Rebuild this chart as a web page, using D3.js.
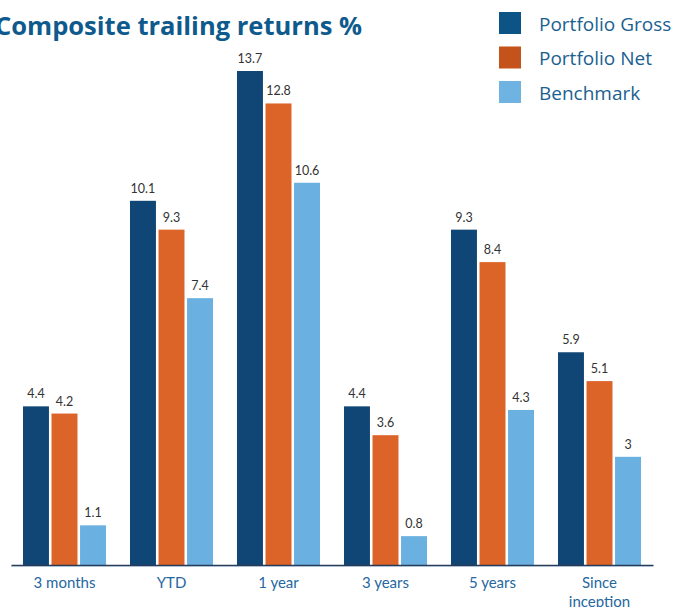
<!DOCTYPE html>
<html>
<head>
<meta charset="utf-8">
<script src="https://cdn.jsdelivr.net/npm/d3@7"></script>
<style>
  html, body { margin: 0; padding: 0; background: #fff; overflow: hidden; }
  svg { display: block; }
</style>
</head>
<body>
<div id="chart"></div>
<script>
const categories = ['3 months', 'YTD', '1 year', '3 years', '5 years', 'Since inception'];
const seriesNames = ['Portfolio Gross', 'Portfolio Net', 'Benchmark'];
const portfolioGross = [4.4, 10.1, 13.7, 4.4, 9.3, 5.9];
const portfolioNet = [4.2, 9.3, 12.8, 3.6, 8.4, 5.1];
const benchmark = [1.1, 7.4, 10.6, 0.8, 4.3, 3];

const barColors = ['#104675', '#dd6428', '#6ab0e0'];
const swatchColors = ['#0c5386', '#c4521b', '#6fb3e3'];

const width = 677;
const height = 607;
const base = 565;

const data = categories.map((c, i) => ({
  cat: c,
  values: [portfolioGross[i], portfolioNet[i], benchmark[i]].map((v, k) => ({ key: seriesNames[k], value: v, k })),
}));

const svg = d3
  .select('#chart')
  .append('svg')
  .attr('width', width)
  .attr('height', height);

const x0 = d3.scaleBand().domain(categories).range([11, 653]).paddingInner(0.224).paddingOuter(0.112);
const x1 = d3.scaleBand().domain(seriesNames).range([0, x0.bandwidth()]).paddingInner(0.09);
const y = d3.scaleLinear().domain([0, 13.7]).range([base, 71]);

// title, right edge at 362, left side runs off the page like the original
const title = svg
  .append('text')
  .attr('x', 362)
  .attr('y', 35)
  .attr('text-anchor', 'end')
  .style('font-family', '"Open Sans", sans-serif')
  .style('font-weight', 700)
  .style('font-size', '25px')
  .style('fill', '#0f5a8c')
  .text('Composite trailing returns %');
const tw = title.node().getComputedTextLength();
if (Math.abs(tw - 367) > 4) title.attr('textLength', 367).attr('lengthAdjust', 'spacingAndGlyphs');

// bars
const groups = svg
  .selectAll('g.group')
  .data(data)
  .enter()
  .append('g')
  .attr('class', 'group')
  .attr('transform', (d) => `translate(${x0(d.cat)},0)`);

groups
  .selectAll('rect')
  .data((d) => d.values)
  .enter()
  .append('rect')
  .attr('x', (d) => x1(d.key))
  .attr('y', (d) => y(d.value))
  .attr('width', x1.bandwidth())
  .attr('height', (d) => base - y(d.value))
  .style('fill', (d) => barColors[d.k]);

groups
  .selectAll('text.val')
  .data((d) => d.values)
  .enter()
  .append('text')
  .attr('class', 'val')
  .attr('x', (d) => x1(d.key) + x1.bandwidth() / 2)
  .attr('y', (d) => y(d.value) - 8)
  .attr('text-anchor', 'middle')
  .style('font-family', 'Lato, sans-serif')
  .style('font-size', '12.5px')
  .style('fill', '#333')
  .text((d) => d.value);

// axis line
const xAxis = svg
  .append('g')
  .attr('transform', `translate(0,${base})`)
  .call(d3.axisBottom(x0).tickSize(0).tickPadding(0).tickFormat(''));
xAxis.select('.domain').attr('stroke', '#2b3a55').attr('stroke-width', 1.5);
svg
  .append('line')
  .attr('x1', 11)
  .attr('x2', 653)
  .attr('y1', base + 1.5)
  .attr('y2', base + 1.5)
  .attr('stroke', '#a9bfd6')
  .attr('stroke-width', 1);

// category labels
xAxis.selectAll('.tick text').remove();
xAxis
  .selectAll('.tick')
  .append('text')
  .attr('text-anchor', 'middle')
  .style('font-family', 'Lato, sans-serif')
  .style('font-size', '15px')
  .style('fill', '#2567a0')
  .each(function (d) {
    const words = d === 'Since inception' ? ['Since', 'inception'] : [d];
    d3.select(this)
      .selectAll('tspan')
      .data(words)
      .enter()
      .append('tspan')
      .attr('x', 0)
      .attr('y', (w, i) => 23 + i * 19)
      .text((w) => w);
  });

// legend
const legend = svg
  .selectAll('g.legend')
  .data(seriesNames)
  .enter()
  .append('g')
  .attr('class', 'legend')
  .attr('transform', (d, i) => `translate(499,${12 + i * 34.5})`);

legend
  .append('rect')
  .attr('width', 22)
  .attr('height', 22)
  .style('fill', (d, i) => swatchColors[i]);

legend
  .append('text')
  .attr('x', 40)
  .attr('y', 18.5)
  .style('font-family', '"Open Sans", sans-serif')
  .style('font-size', '19px')
  .style('fill', '#1b5f91')
  .text((d) => d);
</script>
</body>
</html>
